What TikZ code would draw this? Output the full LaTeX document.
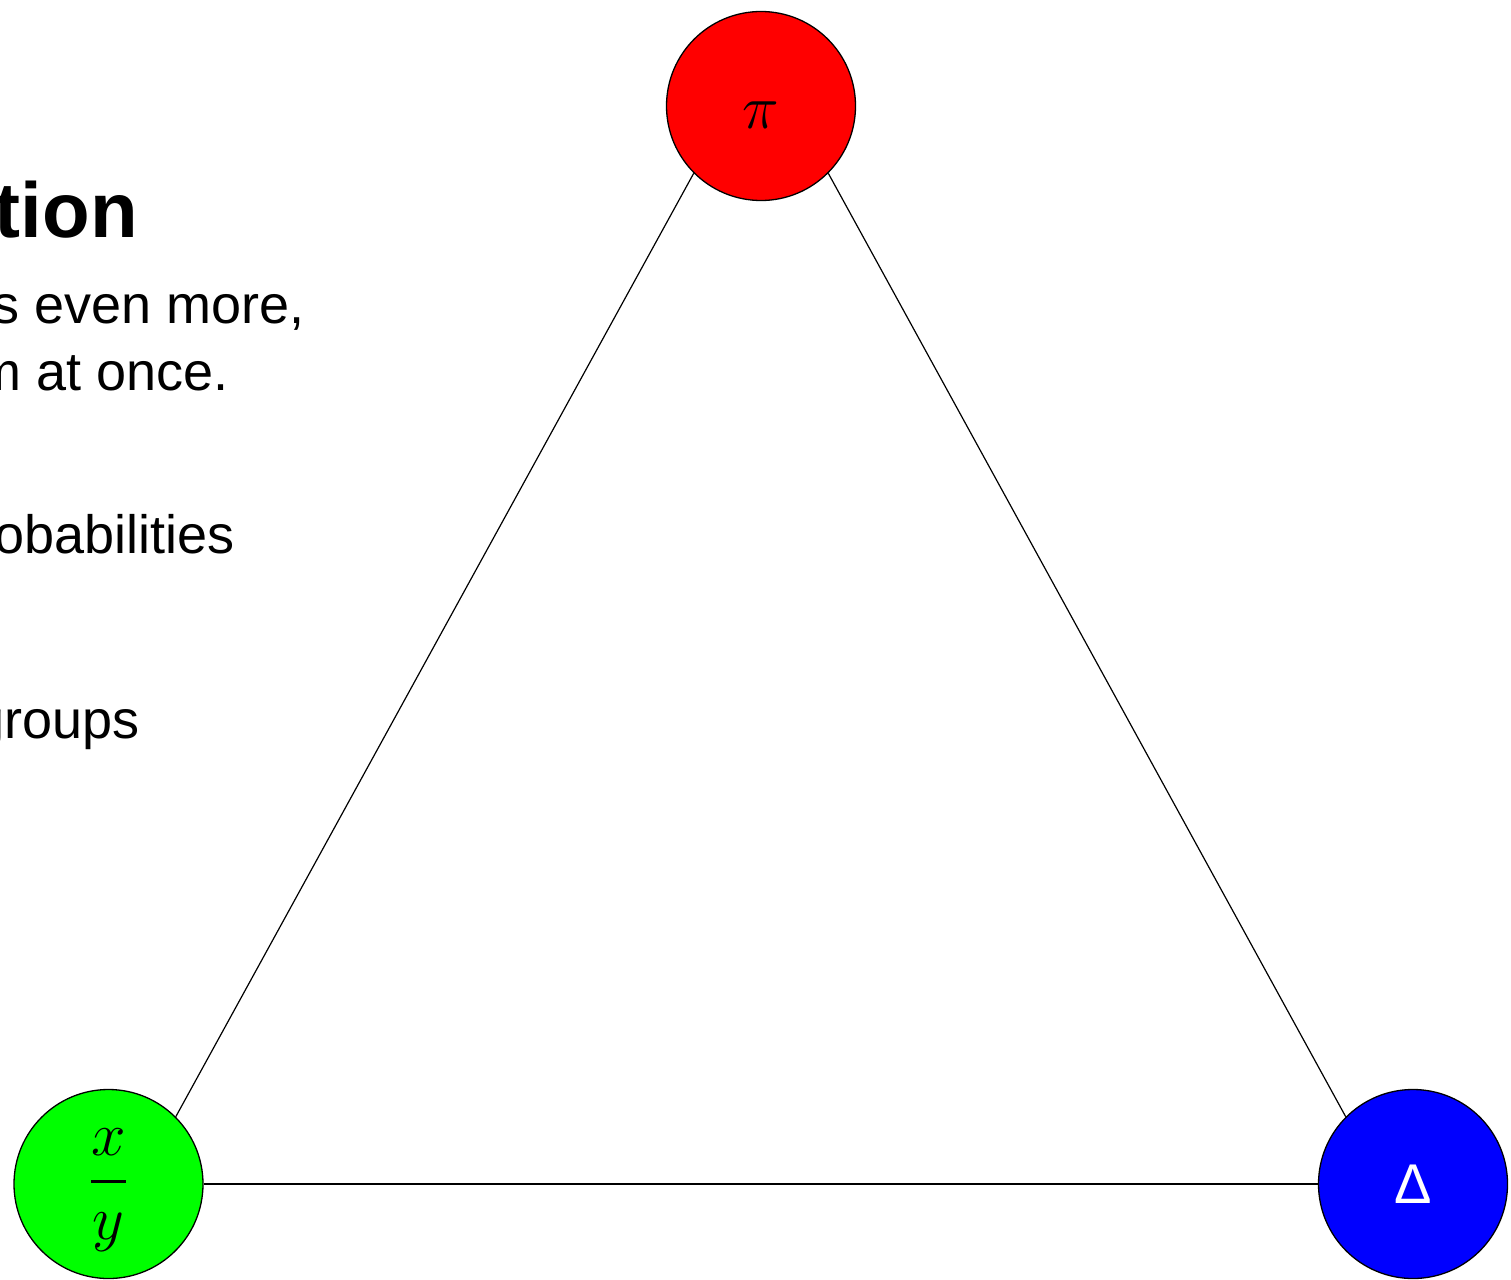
\documentclass[tikz,border=0pt]{standalone}
\usepackage{graphicx}
\usepackage{amsmath}
\usepackage{fontspec}
\setmainfont{Liberation Sans}
\newfontfamily\deltafont{Liberation Sans}
% large math: set at the biggest design size, then scale up
\newcommand{\bigmath}[1]{\scalebox{2.49}{\fontsize{24.88}{30}\selectfont$#1$}}
\begin{document}
\begin{tikzpicture}[x=1pt,y=-1pt,
  vertex/.style={circle,draw=black,line width=1.3pt,minimum size=189pt,inner sep=0pt},
  edge/.style={draw=black,line width=1.2pt},
  bodytext/.style={anchor=base east,inner sep=0pt,font=\fontsize{54}{65}\selectfont},
  headtext/.style={anchor=base east,inner sep=0pt,font=\fontsize{78}{90}\selectfont\bfseries}]
\useasboundingbox (0,0) rectangle (1511,1279);

% text column, cut off at the left edge
\begin{scope}
  \clip (0,0) rectangle (1511,1279);
  \node[headtext] (head) at (138,237) {Visualization};
  \node[bodytext] (l1) at (305,323) {Probability simplex shows even more,};
  \node[bodytext] (l2) at (229,390) {all three of them at once.};
  \node[bodytext] (l3) at (235,553) {Probabilities};
  \node[bodytext] (l4) at (140,738) {Subgroups};
\end{scope}

% the three vertices
\node[vertex,fill={rgb,255:red,255;green,0;blue,0},text height=45.6pt,text depth=0pt] (pi) at (761,106)
  {\bigmath{\pi}};
\node[vertex,fill={rgb,255:red,0;green,255;blue,0},
  label={[name=fraclabel,inner sep=0pt,yshift=-6pt]center:{\bigmath{\genfrac{}{}{1.1pt}{0}{x}{y}}}}] (frac) at (108.5,1184) {};
\node[vertex,fill={rgb,255:red,0;green,0;blue,255},text=white] (delta) at (1413,1184)
  {\fontsize{56}{66}\selectfont\deltafont Δ};

% edges of the triangle
\draw[edge] (pi.south west) -- (frac.north east);
\draw[edge] (pi.south east) -- (delta.north west);
\draw[edge] (frac.east) -- (delta.west);
\end{tikzpicture}
\end{document}
